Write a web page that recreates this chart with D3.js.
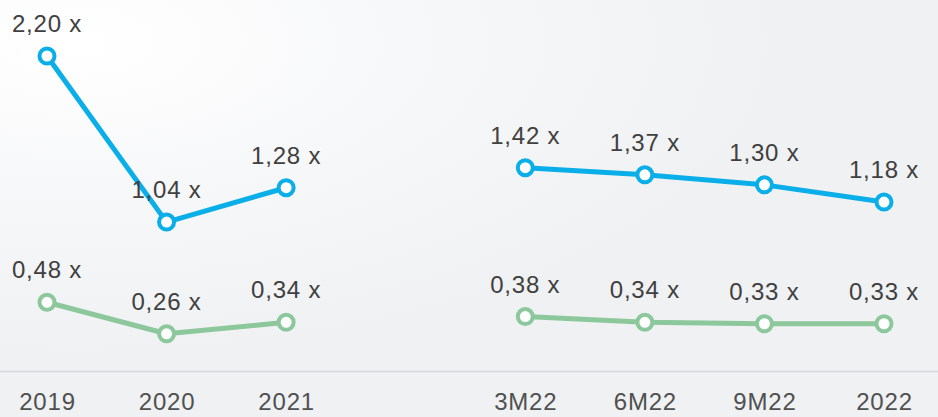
<!DOCTYPE html>
<meta charset="utf-8">
<style>
body { margin: 0; background: #f1f2f4; }
svg { display: block; font-family: "Liberation Sans", Arial, sans-serif; }
.value-label { font-size: 24px; letter-spacing: 0.8px; fill: #404040; text-anchor: middle; }
.x-axis text { font-size: 24px; letter-spacing: 0.8px; fill: #505050; }
</style>
<body>
<script src="https://d3js.org/d3.v7.min.js"></script>
<script>

// categories (blank slot keeps the gap between the two groups)
var periods = ["2019", "2020", "2021", "", "3M22", "6M22", "9M22", "2022"];

// series values, null where the gap is
var blueValues = [2.20, 1.04, 1.28, null, 1.42, 1.37, 1.30, 1.18];
var greenValues = [0.48, 0.26, 0.34, null, 0.38, 0.34, 0.33, 0.33];

var width = 938, height = 417;

var svg = d3.select("body").append("svg")
    .attr("width", width)
    .attr("height", height);

// soft background standing in for the faded photo
var defs = svg.append("defs");
var grad = defs.append("radialGradient")
    .attr("id", "bg").attr("cx", "8%").attr("cy", "10%").attr("r", "75%");
grad.append("stop").attr("offset", "0%").attr("stop-color", "#ffffff");
grad.append("stop").attr("offset", "45%").attr("stop-color", "#f7f8f9");
grad.append("stop").attr("offset", "100%").attr("stop-color", "#eff1f3");
svg.append("rect").attr("width", width).attr("height", height).attr("fill", "url(#bg)");

var x = d3.scalePoint().domain(periods).range([47, 884]);
var y = d3.scaleLinear().domain([0, 2.2]).range([371, 56]);

// x axis: plain light line and the labels
var xAxis = svg.append("g")
    .attr("class", "x-axis")
    .attr("transform", "translate(0,371)")
    .call(d3.axisBottom(x).tickSize(0).tickPadding(22));
xAxis.select(".domain").remove();
xAxis.selectAll("text").attr("font-family", "Liberation Sans, Arial, sans-serif");
svg.append("line")
    .attr("x1", 0).attr("x2", width)
    .attr("y1", 371.5).attr("y2", 371.5)
    .attr("stroke", "#d6d8db").attr("stroke-width", 1.5);

function drawSeries(values, color) {
  var pts = periods.map(function(p, i) { return {p: p, v: values[i]}; });

  var line = d3.line()
      .defined(function(d) { return d.v != null; })
      .x(function(d) { return x(d.p); })
      .y(function(d) { return y(d.v); });

  svg.append("path")
      .datum(pts)
      .attr("fill", "none")
      .attr("stroke", color)
      .attr("stroke-width", 5)
      .attr("stroke-linejoin", "round")
      .attr("d", line);

  var real = pts.filter(function(d) { return d.v != null; });

  svg.selectAll(null)
      .data(real)
    .enter().append("circle")
      .attr("cx", function(d) { return x(d.p); })
      .attr("cy", function(d) { return y(d.v); })
      .attr("r", 7.5)
      .attr("fill", "#ffffff")
      .attr("stroke", color)
      .attr("stroke-width", 4);

  svg.selectAll(null)
      .data(real)
    .enter().append("text")
      .attr("class", "value-label")
      .attr("x", function(d) { return x(d.p); })
      .attr("y", function(d) { return y(d.v) - 24; })
      .text(function(d) { return d.v.toFixed(2).replace(".", ",") + " x"; });
}

drawSeries(blueValues, "#0aaee8");
drawSeries(greenValues, "#8cc89c");

</script>
</body>
